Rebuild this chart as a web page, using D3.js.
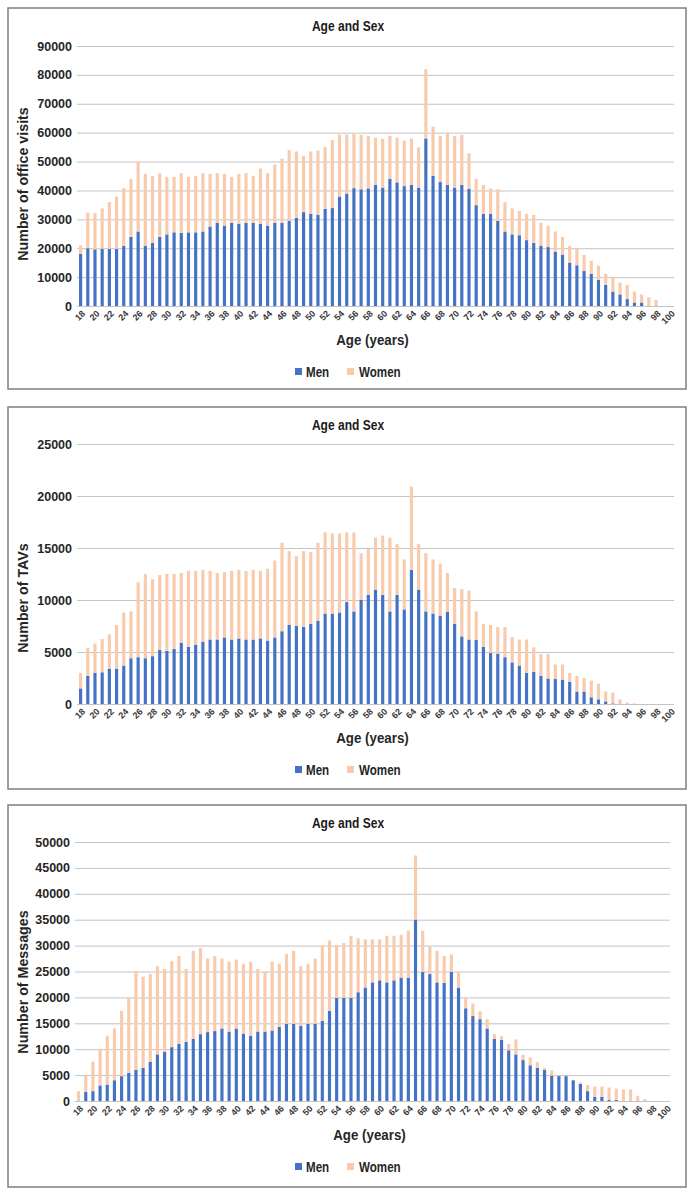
<!DOCTYPE html>
<html>
<head>
<meta charset="utf-8">
<script src="https://cdn.jsdelivr.net/npm/d3@7"></script>
<style>
  html, body { margin: 0; padding: 0; background: #ffffff; }
  svg { display: block; }
  text { font-family: "Liberation Sans", Arial, sans-serif; font-weight: bold; }
</style>
</head>
<body>
<svg id="chart" width="695" height="1196"></svg>
<script>
// ---------------- DATA ----------------
const ages = [18,19,20,21,22,23,24,25,26,27,28,29,30,31,32,33,34,35,36,37,38,39,40,41,42,43,44,45,46,47,48,49,
  50,51,52,53,54,55,56,57,58,59,60,61,62,63,64,65,66,67,68,69,70,71,72,73,74,75,76,77,78,79,80,81,82,83,84,85,
  86,87,88,89,90,91,92,93,94,95,96,97,98,99,100];
const xTickLabels = [18,20,22,24,26,28,30,32,34,36,38,40,42,44,46,48,50,52,54,56,58,60,62,64,66,68,70,72,74,76,78,80,
  82,84,86,88,90,92,94,96,98,100];
const seriesNames = ["Men", "Women"];
const chartTitle = "Age and Sex";
const xTitle = "Age (years)";

// Panel 1: office visits
const visitsMen = [18000,20000,19600,19800,19800,19800,20800,23900,25800,20800,21800,23900,
  24800,25500,25300,25500,25500,25800,27500,28800,27800,28800,28500,28800,28800,28500,27800,28800,28800,29500,
  30500,32500,31900,31500,33600,33900,37900,38900,40800,
  40400,40700,41900,41000,44000,42800,41500,41900,41000,58000,45000,42900,41900,41000,41900,40600,34900,31900,
  31900,29500,25800,24800,24500,22800,21800,20900,20400,18800,17800,15000,14100,12100,11100,9100,7300,5000,4000,
  2400,1200,1200,0,0,0,0];
const visitsWomen = [3000,12300,12500,14000,16200,18100,20000,20000,24200,25000,23200,22000,
  19900,19200,20700,19200,19500,20200,18200,17200,17900,15900,17200,17200,16200,19100,18200,20200,22200,24500,
  23000,19500,21600,22300,21400,23500,21400,20400,19000,
  18800,18200,16400,16900,14900,15500,15700,16000,13900,24000,17100,16000,18100,17900,17300,12300,9100,10000,
  8800,10900,10100,9000,8400,9100,9700,7900,7400,7000,6100,5800,5900,5600,4600,4900,3800,5200,4100,
  4900,3800,2800,3000,2100,0,0];
const visitsTicks = [0,10000,20000,30000,40000,50000,60000,70000,80000,90000];

// Panel 2: TAVs
const tavMen = [1500,2700,3000,3050,3400,3400,3700,4400,4500,4400,4600,5200,5100,5300,5900,5500,5700,6000,
  6200,6200,6400,6200,6300,6200,6200,6300,6100,6400,7000,7600,7500,7400,7700,8000,8700,8700,8800,9800,8900,
  10000,10500,11000,10500,8900,10500,9100,12900,11000,8900,8700,8500,8850,7700,6500,6200,6150,5500,4900,4850,
  4500,4000,3700,3000,3100,2700,2450,2400,2350,2150,1200,1200,650,450,250,60,0,0,0,0,0,0,0,0];
const tavWomen = [1500,2700,2800,3200,3300,4200,5100,4500,7200,8100,7400,7200,7400,7200,6700,7300,7100,6900,
  6600,6400,6300,6600,6600,6600,6700,6500,6900,7400,8500,7100,6700,7300,6900,7500,7800,7700,7600,6700,7600,
  4500,4400,5000,5700,7100,4900,4800,8000,4400,5600,5200,5000,3750,3450,4550,4700,2750,2200,2700,2550,
  2900,2450,2500,3200,2350,2100,2350,1400,1450,850,1500,1300,1600,1500,950,1040,450,150,60,0,0,0,0,0];
const tavTicks = [0,5000,10000,15000,20000,25000];

// Panel 3: Messages
const msgMen = [0,1800,1900,3000,3150,4000,4800,5450,6000,6400,7600,9000,9500,10400,11000,11400,12000,12900,
  13300,13500,14000,13400,14000,13000,12600,13400,13400,13600,14300,14900,14900,14500,14900,14900,15500,17400,
  19900,19900,19900,21000,21900,22900,23300,22900,23300,23800,23800,35000,24900,24500,22900,22800,24900,21900,
  17900,16400,15800,14000,12000,11800,9800,9000,7900,6900,6400,6000,4900,4800,4800,4000,3300,1900,800,800,200,
  200,0,0,0,0,0,0,0];
const msgWomen = [1900,3200,5700,7100,9450,10000,12600,14450,19000,17600,16900,17000,16000,16600,17000,14100,
  17000,16600,14200,14500,13500,13500,13300,13500,14300,12100,11600,13300,12200,13500,14100,11500,11600,12600,
  14500,13600,10200,10600,12000,10400,9300,8300,7900,9000,8600,8300,9100,12400,8000,5300,6100,5200,3400,3000,
  2100,2400,1500,1800,900,700,1200,2900,1000,1500,1100,400,1000,0,0,0,300,1200,2000,2000,2400,2200,2250,2250,
  1000,400,0,0,0];
const msgTicks = [0,5000,10000,15000,20000,25000,30000,35000,40000,45000,50000];

// ---------------- LAYOUT / STYLE ----------------
const colors = { Men: "#4472C4", Women: "#F8CBAD" };
const panels = [
  { men: visitsMen, women: visitsWomen, ticks: visitsTicks, yTitle: "Number of office visits",
    box: { x0: 8, y0: 8, x1: 686, y1: 389 }, plot: { x0: 77, x1: 674, top: 46, bottom: 306 }, yTitleY: 184 },
  { men: tavMen, women: tavWomen, ticks: tavTicks, yTitle: "Number of TAVs",
    box: { x0: 8, y0: 407, x1: 686, y1: 789 }, plot: { x0: 77, x1: 674, top: 444, bottom: 704 }, yTitleY: 598 },
  { men: msgMen, women: msgWomen, ticks: msgTicks, yTitle: "Number of Messages",
    box: { x0: 8, y0: 805, x1: 686, y1: 1187 }, plot: { x0: 75, x1: 670, top: 842, bottom: 1101 }, yTitleY: 982 }
];

const svg = d3.select("#chart");

function narrowText(g, str, x, y, size, sx, anchor, rotate) {
  const t = g.append("text")
    .attr("transform", `translate(${x},${y})` + (rotate ? ` rotate(${rotate})` : "") + ` scale(${sx},1)`)
    .attr("text-anchor", anchor || "middle")
    .attr("font-size", size)
    .attr("fill", "#262626")
    .text(str);
  return t;
}

panels.forEach(p => {
  const g = svg.append("g");
  const b = p.box, pl = p.plot;

  // border
  g.append("rect")
    .attr("x", b.x0).attr("y", b.y0)
    .attr("width", b.x1 - b.x0).attr("height", b.y1 - b.y0)
    .attr("fill", "#fff").attr("stroke", "#7f7f7f").attr("stroke-width", 1.5);

  const x = d3.scaleBand().domain(ages).range([pl.x0, pl.x1]).paddingInner(0.56).paddingOuter(0.28);
  const y = d3.scaleLinear().domain([0, d3.max(p.ticks)]).range([pl.bottom, pl.top]);

  // y axis with gridlines
  const yAxis = g.append("g")
    .attr("transform", `translate(${pl.x0},0)`)
    .call(d3.axisLeft(y).tickValues(p.ticks).tickSize(-(pl.x1 - pl.x0)).tickPadding(5).tickFormat(d3.format("d")));
  yAxis.select(".domain").remove();
  yAxis.selectAll(".tick line").attr("stroke", "#c4c4c4").attr("stroke-width", 1);
  yAxis.selectAll(".tick text")
    .attr("font-size", 12.5).attr("font-weight", "bold").attr("fill", "#262626")
    .attr("font-family", '"Liberation Sans", Arial, sans-serif');

  // stacked bars
  const rows = ages.map((a, i) => ({ age: a, Men: p.men[i], Women: p.women[i] }));
  const stacked = d3.stack().keys(seriesNames)(rows);
  g.append("g").selectAll("g")
    .data(stacked).join("g")
    .attr("fill", d => colors[d.key])
    .selectAll("rect")
    .data(d => d).join("rect")
    .attr("x", d => x(d.data.age))
    .attr("width", x.bandwidth())
    .attr("y", d => y(d[1]))
    .attr("height", d => Math.max(0, y(d[0]) - y(d[1])));

  // x axis labels
  const xAxis = g.append("g")
    .attr("transform", `translate(0,${pl.bottom})`)
    .call(d3.axisBottom(x).tickValues(xTickLabels).tickSize(0).tickPadding(0));
  xAxis.select(".domain").remove();
  xAxis.selectAll(".tick text")
    .attr("font-size", 9).attr("font-weight", "bold").attr("fill", "#3a3a3a")
    .attr("font-family", '"Liberation Sans", Arial, sans-serif')
    .attr("text-anchor", "end")
    .attr("x", 0).attr("y", 0).attr("dy", "0.35em")
    .attr("transform", "translate(3,6) rotate(-45)");

  const cx = (pl.x0 + pl.x1) / 2;
  const bx = (b.x0 + b.x1) / 2;

  // title
  narrowText(g, chartTitle, bx + 1, b.y0 + 23, 14, 0.86, "middle").attr("fill", "#1a1a1a");
  // x title
  narrowText(g, xTitle, cx - 3, pl.bottom + 39, 15.5, 0.86, "middle");
  // y title
  narrowText(g, p.yTitle, 28, p.yTitleY, 15.5, 0.92, "middle", -90);

  // legend
  const ly = pl.bottom + 71;
  const lg = g.append("g");
  const items = [
    { name: seriesNames[0], sq: bx - 52, tx: bx - 41 },
    { name: seriesNames[1], sq: bx, tx: bx + 12 }
  ];
  items.forEach(it => {
    lg.append("rect").attr("x", it.sq).attr("y", ly - 9).attr("width", 7).attr("height", 7)
      .attr("fill", colors[it.name]);
    narrowText(lg, it.name, it.tx, ly, 14.5, 0.8, "start");
  });
});
</script>
</body>
</html>
